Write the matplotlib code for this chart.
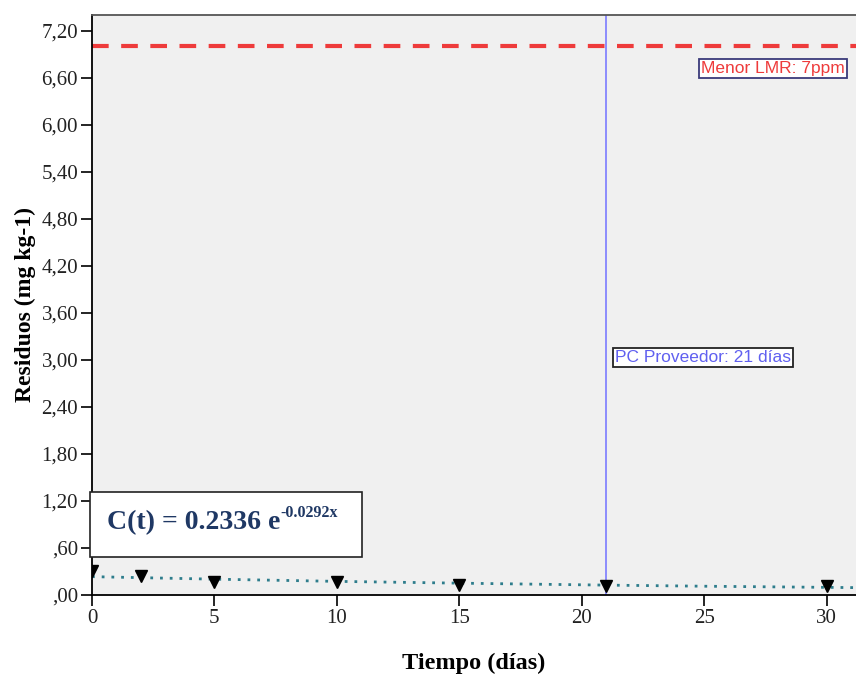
import matplotlib.pyplot as plt
from matplotlib.patches import Rectangle

# data
dias = [0, 2, 5, 10, 15, 21, 30]
residuos = [0.30, 0.24, 0.17, 0.16, 0.13, 0.12, 0.12]

# trend line points (C(t) = 0.2336 e^-0.0292x)
ajuste_x = [0, 5, 10, 15, 21, 25, 31.2]
ajuste_y = [0.234, 0.202, 0.174, 0.151, 0.126, 0.112, 0.094]

lmr = 7.0
pc_proveedor = 21
yticks = [0, 0.6, 1.2, 1.8, 2.4, 3.0, 3.6, 4.2, 4.8, 5.4, 6.0, 6.6, 7.2]
xticks = [0, 5, 10, 15, 20, 25, 30]

serif = 'Liberation Serif'
sans = 'Liberation Sans'

fig = plt.figure(figsize=(8.56, 6.76), dpi=100)
ax = fig.add_axes([92 / 856, 1 - 595 / 676, 1 - 92 / 856, (595 - 15) / 676])
ax.set_facecolor('#f0f0f0')

ax.axhline(lmr, color='#ee3b3b', lw=3, ls=(0, (4, 3)))
ax.axvline(pc_proveedor, color='#7b7bff', lw=1.2)
ax.plot(ajuste_x, ajuste_y, ls=(0, (1, 2.5)), color='#2e7d8c', lw=2)
ax.plot(dias, residuos, ls='none', marker='v', ms=9, color='black')

ax.set_xlim(0, 31.2)
ax.set_ylim(0, 7.4)
ax.set_xticks(xticks)
ax.set_yticks(yticks)

def fmt(v):
    s = f'{v:.2f}'.replace('.', ',')
    if s.startswith('0'):
        s = s[1:]
    return s

ax.set_yticklabels([fmt(v) for v in yticks], fontfamily=serif, fontsize=15, color='#222222')
ax.set_xticklabels([str(v) for v in xticks], fontfamily=serif, fontsize=15, color='#222222')
ax.tick_params(direction='out', length=8, width=1.2, pad=2)

ax.spines['right'].set_visible(False)
for s in ['left', 'bottom', 'top']:
    ax.spines[s].set_linewidth(1.3)
ax.spines['top'].set_color('#555555')

ax.set_ylabel('Residuos (mg kg-1)', fontfamily=serif, fontweight='bold', fontsize=17, labelpad=4)
ax.set_xlabel('Tiempo (días)', fontfamily=serif, fontweight='bold', fontsize=17.5, labelpad=18)

ax.text(31.2 - 0.45, 6.72, 'Menor LMR: 7ppm', fontfamily=sans, fontsize=12.5,
        color='#ee3b3b', ha='right', va='center',
        bbox=dict(boxstyle='square,pad=0.12', fc='white', ec='#3a3a7a', lw=1.3))
ax.text(pc_proveedor + 0.35, 3.03, 'PC Proveedor: 21 días', fontfamily=sans, fontsize=12.5,
        color='#6060f0', ha='left', va='center',
        bbox=dict(boxstyle='square,pad=0.12', fc='white', ec='#222222', lw=1.3))

# equation box
fig.patches.append(Rectangle((90 / 856, 1 - 557 / 676), 272 / 856, 65 / 676,
                             transform=fig.transFigure, fc='white', ec='#222222', lw=1.2, zorder=5))
fig.text(107 / 856, 1 - 529 / 676, 'C(t) = 0.2336 e', fontfamily=serif,
         fontweight='bold', fontsize=20, color='#1f3864', ha='left', va='baseline', zorder=6)
fig.text(280 / 856, 1 - 517 / 676, '-0.0292x', fontfamily=serif,
         fontweight='bold', fontsize=11.5, color='#1f3864', ha='left', va='baseline', zorder=6)

fig.savefig('out.png', dpi=100)
